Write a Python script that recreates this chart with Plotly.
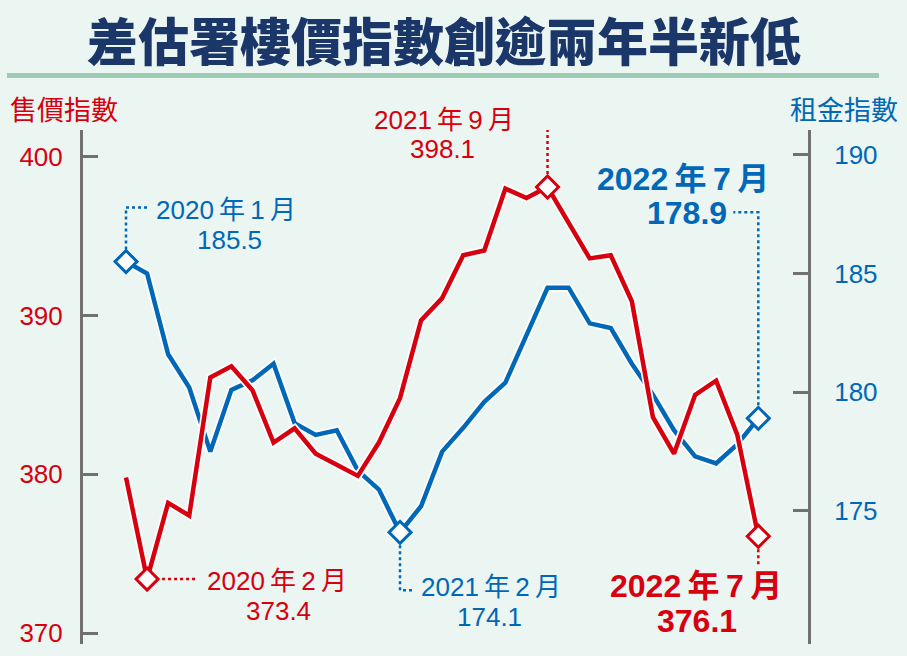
import plotly.graph_objects as go

# monthly data, Jan 2020 - Jul 2022
months = ["2020-01", "2020-02", "2020-03", "2020-04", "2020-05", "2020-06",
          "2020-07", "2020-08", "2020-09", "2020-10", "2020-11", "2020-12",
          "2021-01", "2021-02", "2021-03", "2021-04", "2021-05", "2021-06",
          "2021-07", "2021-08", "2021-09", "2021-10", "2021-11", "2021-12",
          "2022-01", "2022-02", "2022-03", "2022-04", "2022-05", "2022-06",
          "2022-07"]
price_index = [379.8, 373.4, 378.2, 377.4, 386.1, 386.8, 385.3, 382.0, 382.9, 381.3,
               380.6, 379.9, 382.0, 384.8, 389.7, 391.1, 393.8, 394.1, 398.0, 397.4,
               398.1, 395.8, 393.6, 393.8, 390.9, 383.6, 381.3, 385.0, 385.9, 382.5,
               376.1]
rent_index = [185.5, 185.0, 181.6, 180.2, 177.5, 180.1, 180.5, 181.2, 178.7, 178.2,
              178.4, 176.7, 175.9, 174.1, 175.2, 177.5, 178.5, 179.6, 180.4, 182.4,
              184.4, 184.4, 182.9, 182.7, 181.2, 179.9, 178.4, 177.3, 177.0, 177.8,
              178.9]
price_ticks = [370, 380, 390, 400]
rent_ticks = [175, 180, 185, 190]

title = "差估署樓價指數創逾兩年半新低"
price_title = "售價指數"
rent_title = "租金指數"

RED = "#d7000f"
BLUE = "#0068b7"
GREY = "#707070"
BG = "#ebf5f1"
NUM_FONT = "Liberation Sans, Noto Sans CJK TC"

W, H = 907, 656
# plot area in pixels
L, R, T, B = 83, 808, 130, 648


def px(xp, yp):
    return (xp - L) / (R - L), (B - yp) / (B - T)


def month_label(m):
    y, mo = m.split("-")
    return f"{y}\u2009年\u2009{int(mo)}\u2009月"


# callouts: series, month index, leader path (pixels, up = +), text offsets, bold
callouts = [
    ("rent", 0, "M0,12 L0,54 L24,54", (100, -52), (103, -22), False),
    ("price", 1, "M15,0 L50,0", (130, 2), (131, 32), False),
    ("rent", 13, "M0,-13 L0,-58 L14,-58", (91, 55), (89, 85), False),
    ("price", 20, "M0,13 L0,65 L-30,65", (-104, -67), (-105, -38), False),
    ("rent", 30, "M0,13 L0,206 L-25,206", (-75, -239), (-71, -205), True),
    ("price", 30, "M0,-13 L0,-30", (-62, 50), (-61, 85), True),
]

fig = go.Figure()

# red on the overlaying axis so it sits above blue
series = [("rent", rent_index, BLUE, "y"), ("price", price_index, RED, "y2")]
for name, vals, col, ax in series:
    fig.add_trace(go.Scatter(x=months, y=vals, yaxis=ax, mode="lines",
                             line=dict(color="white", width=8), hoverinfo="skip"))
    pts = [c[1] for c in callouts if c[0] == name]
    fig.add_trace(go.Scatter(x=[months[i] for i in pts], y=[vals[i] for i in pts],
                             yaxis=ax, mode="markers", hoverinfo="skip",
                             marker=dict(symbol="diamond", size=22, color="white")))
    fig.add_trace(go.Scatter(x=months, y=vals, yaxis=ax, mode="lines",
                             line=dict(color=col, width=4.5)))
    fig.add_trace(go.Scatter(x=[months[i] for i in pts], y=[vals[i] for i in pts],
                             yaxis=ax, mode="markers",
                             marker=dict(symbol="diamond", size=17, color="white",
                                         line=dict(color=col, width=3))))

shapes = []
annotations = []
for name, i, path, off1, off2, bold in callouts:
    vals = rent_index if name == "rent" else price_index
    col = BLUE if name == "rent" else RED
    yref = "y" if name == "rent" else "y2"
    shapes.append(dict(type="path", path=path, xref="x", yref=yref,
                       xsizemode="pixel", ysizemode="pixel",
                       xanchor=i, yanchor=vals[i],
                       line=dict(color=col, width=2.5, dash="dot")))
    size = 32 if bold else 26
    lines = [month_label(months[i]), f"{vals[i]:.1f}"]
    for txt, (dx, dy) in zip(lines, [off1, off2]):
        annotations.append(dict(
            x=i, y=vals[i], xref="x", yref=yref, xshift=dx, yshift=-dy,
            text=f"<b>{txt}</b>" if bold else txt, showarrow=False,
            xanchor="center", yanchor="middle",
            font=dict(family=NUM_FONT, size=size, color=col)))

# header rule
x0, y0 = px(7, 75)
x1, _ = px(879, 75)
shapes.append(dict(type="line", xref="paper", yref="paper", x0=x0, x1=x1, y0=y0, y1=y0,
                   line=dict(color="#9ecbb3", width=5)))

tx, ty = px(444, 38)
annotations.append(dict(x=tx, y=ty, xref="paper", yref="paper", showarrow=False,
                        text=title, xanchor="center", yanchor="middle",
                        font=dict(family="Noto Sans CJK TC", size=51, weight=900,
                                  color="#1b3668")))
for txt, xp, col in [(price_title, 64, RED), (rent_title, 844, BLUE)]:
    ax_, ay_ = px(xp, 108)
    annotations.append(dict(x=ax_, y=ay_, xref="paper", yref="paper", showarrow=False,
                            text=txt, xanchor="center", yanchor="middle",
                            font=dict(family="Noto Sans CJK TC", size=27, color=col)))

axis_common = dict(showgrid=False, zeroline=False, showline=True, linecolor=GREY,
                   linewidth=3, ticks="inside", ticklen=15, tickwidth=3, tickcolor=GREY)

fig.update_layout(
    width=W, height=H, autosize=False,
    margin=dict(l=L, r=W - R, t=T, b=H - B, pad=0),
    paper_bgcolor=BG, plot_bgcolor=BG,
    showlegend=False,
    xaxis=dict(type="category", categoryarray=months, range=[-2.04, 32.358],
               visible=False),
    yaxis=dict(side="right", range=[169.40, 191.04], tickvals=rent_ticks,
               ticklabelstandoff=18,
               tickfont=dict(family=NUM_FONT, size=26, color=BLUE), **axis_common),
    yaxis2=dict(side="left", overlaying="y", range=[369.31, 401.69], tickvals=price_ticks,
                ticklabelstandoff=12,
                tickfont=dict(family=NUM_FONT, size=26, color=RED), **axis_common),
    shapes=shapes,
    annotations=annotations,
)

# drop the browser's default body margin so the figure fills the window
fig.write_html("out.html", config={"displayModeBar": False},
               post_script="document.body.style.margin='0';")
